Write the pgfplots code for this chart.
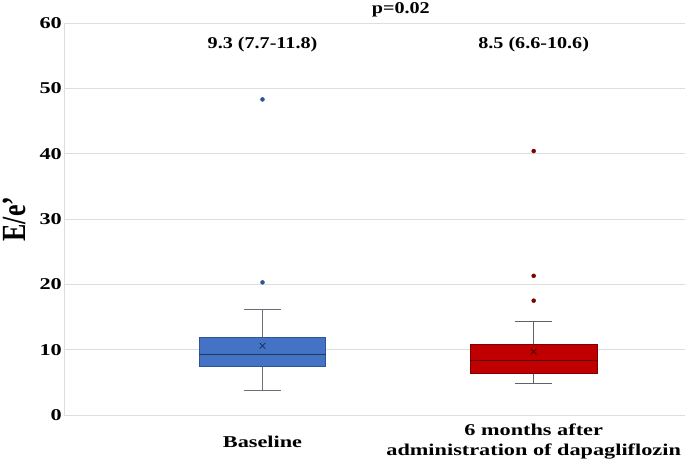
\documentclass[border=0pt]{standalone}
\usepackage{fontspec}
\setmainfont{Liberation Serif}[FakeStretch=1.35]
\newfontfamily\notefont{Liberation Serif}[FakeStretch=1.22]
\newfontfamily\plainfont{Liberation Serif}
\usepackage{pgfplots}
\pgfplotsset{compat=1.18}
\usepgfplotslibrary{statistics}
\definecolor{boxblue}{RGB}{68,114,196}
\definecolor{edgeblue}{RGB}{47,85,151}
\definecolor{medblue}{RGB}{31,56,100}
\definecolor{dotblue}{RGB}{46,84,150}
\definecolor{boxred}{RGB}{192,0,0}
\definecolor{edgered}{RGB}{130,0,0}
\definecolor{dotred}{RGB}{128,0,0}
\definecolor{whisk}{RGB}{105,110,120}
\definecolor{gridgray}{RGB}{222,222,222}

\begin{document}
\begin{tikzpicture}
\begin{axis}[scale only axis, width=621pt, height=392pt,
 xmin=0.268, xmax=2.558, ymin=0, ymax=60, clip=false,
 xtick={1,2}, xticklabels={Baseline,{6 months after\\administration of dapagliflozin}},
 ytick={0,10,...,60}, major tick length=0pt,
 ymajorgrids, grid style={gridgray, line width=0.8pt},
 axis lines*=left, axis line style={gridgray, line width=0.8pt, -},
 /pgf/number format/assume math mode=true,
 yticklabel style={font=\bfseries\fontsize{16.5}{18}\selectfont, inner sep=2pt},
 xticklabel style={font=\bfseries\fontsize{16.5}{20}\selectfont, align=center, anchor=center, yshift=-27pt},
 ylabel={\scalebox{1}[1.3]{\plainfont\bfseries\fontsize{26}{28}\selectfont E/e’}},
 ylabel style={yshift=8pt},
 boxplot/draw direction=y]
% Baseline
\addplot[fill=boxblue, draw=edgeblue, line width=0.9pt,
 boxplot prepared={median=9.3, upper quartile=11.8, lower quartile=7.4,
  upper whisker=16.2, lower whisker=3.7, draw position=1,
  box extend=0.467, whisker extend=0.136},
 boxplot/every whisker/.style={draw=whisk, line width=1.1pt},
 boxplot/every median/.style={draw=medblue, line width=1pt}] coordinates {};
\addplot[only marks, mark=*, mark size=2pt, dotblue] coordinates {(1,48.3) (1,20.3)};
\addplot[only marks, mark=x, mark size=4pt, medblue, line width=0.9pt] coordinates {(1,10.6)};
% after dapagliflozin
\addplot[fill=boxred, draw=edgered, line width=0.9pt,
 boxplot prepared={median=8.4, upper quartile=10.8, lower quartile=6.4,
  upper whisker=14.3, lower whisker=4.8, draw position=2,
  box extend=0.467, whisker extend=0.136},
 boxplot/every whisker/.style={draw=black!62, line width=1.1pt},
 boxplot/every median/.style={draw=edgered!70!black, line width=1pt}] coordinates {};
\addplot[only marks, mark=*, mark size=2pt, dotred] coordinates {(2,40.4) (2,21.3) (2,17.5)};
\addplot[only marks, mark=x, mark size=4pt, edgered!60!black, line width=0.9pt] coordinates {(2,9.7)};
% annotations
\node[font=\notefont\bfseries\fontsize{16.5}{18}\selectfont] at (axis cs:1,56.7) {9.3 (7.7-11.8)};
\node[font=\notefont\bfseries\fontsize{16.5}{18}\selectfont] at (axis cs:2,56.7) {8.5 (6.6-10.6)};
\node[font=\notefont\bfseries\fontsize{16.5}{18}\selectfont] at (axis cs:1.51,62) {p=0.02};
\end{axis}
\pgfresetboundingbox
\path[use as bounding box] (-64pt,-55pt) rectangle (621pt,415pt);
\end{tikzpicture}
\end{document}
